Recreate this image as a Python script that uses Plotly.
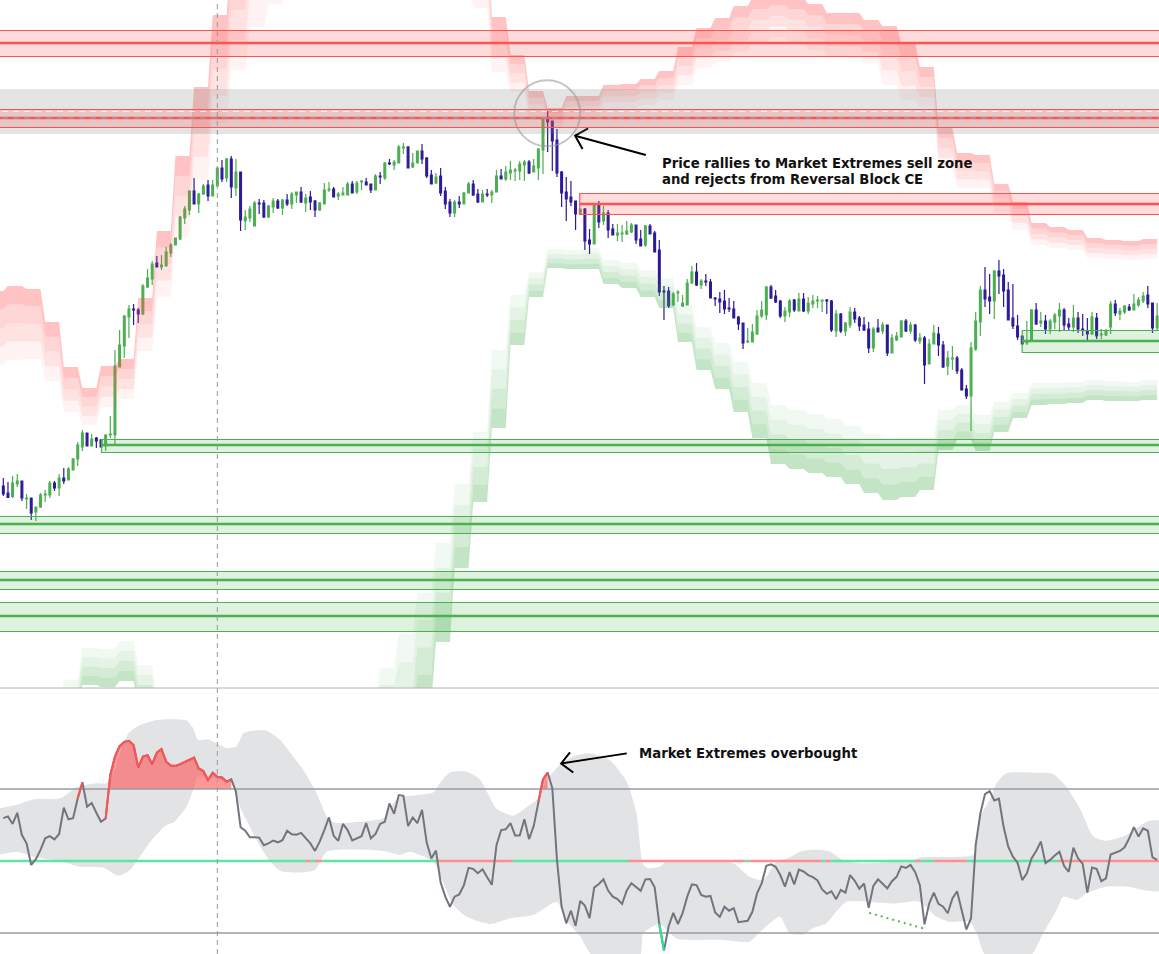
import numpy as np
import plotly.graph_objects as go

# ---------- candles ----------
opens = [514,507,503.5,516,519,501,502,488,493,505,
505,517,512,522,520,530,541,553,567,554,
562,560,554,565,565,633,654,683,691,690,
686,713,721,737,733,734,747,755,761,782,
790,809,796,806,815,804,814,832,822,841,
812,828,779,782,774,797,797,783,793,799,
792,800,796,805,808,797,803,799,790,796,
810,811,804,805,805,816,808,818,818,816,
810,824,822,837,835,837,852,853,833,837,
849,842,825,817,824,809,798,787,798,796,
807,816,806,798,806,805,808,824,821,827,
829,829,835,838,828,832,850,881,879,860,
828,808,803,799,786,791,760,756,795,779,
787,771,765,766,766,768,775,761,755,774,
767,750,709,709,695,707,694,695,717,728,
715,719,718,702,701,699,692,691,683,677,
658,658,666,684,685,713,704,699,684,688,
700,689,701,689,696,699,699,700,699,669,
686,669,675,688,682,675,671,652,672,669,
675,647,660,663,679,669,675,659,662,636,
656,666,655,634,641,642,630,611,604,651,
678,710,703,699,729,725,710,682,674,664,
657,659,690,677,679,671,678,684,690,676,
673,682,671,669,666,682,665,665,673,696,
686,688,693,690,695,699,705,697,672]
highs = [522,518,524,526,519,506,502,493,507,510,
519,519,526,532,533,542,558,570,567,566,
563,561,566,584,650,670,685,695,696,692,
716,731,739,744,745,753,757,762,784,794,
809,822,807,816,820,820,832,840,842,844,
841,828,790,794,799,801,800,795,802,801,
801,806,808,808,813,806,809,800,798,817,
818,813,808,813,818,819,819,820,822,816,
826,828,838,841,840,855,857,854,847,849,
856,843,830,827,832,813,801,800,804,808,
818,820,811,810,811,810,830,831,834,839,
832,839,840,840,841,852,881,889,879,871,
829,823,819,799,791,792,771,796,799,794,
790,776,776,775,779,777,775,770,775,776,
769,760,714,713,708,710,705,721,734,737,
721,726,721,703,708,710,702,699,684,677,
672,676,690,699,714,715,710,700,693,701,
701,707,707,703,705,704,700,701,700,690,
687,678,693,692,684,683,678,673,681,678,
675,666,668,680,681,678,676,667,664,661,
675,673,659,649,654,644,632,615,658,688,
714,733,726,730,740,731,718,716,685,664,
679,691,697,688,685,681,687,697,692,682,
695,688,686,682,688,687,671,671,699,700,
692,695,696,706,703,708,714,697,697]
lows = [504,502,502,513,499,491,480,479,492,498,
502,509,504,516,520,530,534,549,554,554,
552,553,549,562,556,633,642,662,675,677,
685,712,715,733,730,734,743,755,760,776,
785,796,787,805,799,804,814,818,818,802,
804,769,770,778,774,786,782,782,787,791,
785,794,791,797,797,788,790,783,789,796,
808,803,800,805,805,807,806,810,815,807,
810,816,820,835,830,837,846,832,832,837,
836,822,816,816,804,791,783,783,792,796,
807,804,797,798,803,797,808,821,819,820,
819,820,819,826,828,820,826,848,829,823,
793,779,794,770,785,750,746,756,772,775,
762,765,759,758,765,767,756,754,753,766,
748,704,680,692,694,698,693,695,716,714,
711,714,702,694,687,686,688,682,670,651,
657,658,665,682,680,701,697,682,678,683,
688,689,688,686,692,692,688,686,668,663,
667,664,672,677,669,669,647,648,668,666,
644,647,659,663,668,666,658,656,616,636,
656,644,632,625,630,626,610,601,569,649,
664,693,686,681,706,693,680,671,660,656,
655,658,675,673,666,666,671,668,669,669,
668,667,664,660,665,661,661,664,666,684,
680,686,689,690,693,697,692,667,670]
closes = [506,502.5,517,519,502,502,487,493,505,506,
517,512,522,519,531,541,555,567,554,561,
559,553,565,566,634,655,684,691,690,686,
714,722,736,733,735,748,755,762,783,791,
809,796,806,814,804,815,832,821,841,813,
828,780,783,791,797,796,783,794,799,792,
800,796,806,808,798,802,798,790,797,810,
811,803,806,807,816,807,817,819,815,810,
824,823,837,836,838,853,853,832,837,849,
841,824,816,823,807,796,787,798,796,807,
816,805,798,806,805,808,824,821,828,830,
830,836,838,827,834,851,881,878,859,827,
807,801,798,786,791,759,756,795,778,787,
770,765,767,767,769,775,760,754,774,766,
748,708,708,694,706,708,697,717,728,715,
719,718,702,701,698,691,691,682,676,657,
659,668,684,690,713,702,698,684,689,699,
690,701,689,697,699,700,700,699,670,686,
669,677,688,681,674,670,652,671,668,675,
647,662,664,679,669,675,660,662,635,656,
667,655,633,642,642,629,610,604,652,679,
710,701,699,729,724,709,680,674,663,656,
659,690,676,679,671,679,685,690,675,673,
682,671,670,666,683,664,666,669,696,687,
689,694,690,696,700,704,696,672,684]
assert len(opens) == len(highs) == len(lows) == len(closes) == 249

# ---------- Market Extremes bands (one value per 4-candle block, first block starts at candle -3) ----------
red_top = [709,714,711,678,633,612,634,641,702,769,844,913,985,1050,1097,1130,1160,1190,1210,1220,1220,1220,1210,1200,1180,1140,1100,
           983,945,909,892,904,904,915,916,921,929,953,972,982,994,1002,1005,1002,996,987,987,980,974,957,933,872,847,845,816,798,777,773,770,762,760,759,761]
red_bottom = [635,640,641,619,588,575,593,601,649,703,763,820,877,930,973,996,1040,1070,1090,1100,1100,1100,1090,1080,1060,1020,992,
              928,908,882,872,882,884,892,892,895,900,915,932,938,948,958,963,958,950,943,942,937,915,900,893,832,812,812,787,770,755,752,750,742,741,740,741]
green_top = [260,260,265,290,320,352,351,359,335,300,270,240,200,200,200,200,200,200,200,200,295,332,366,407,457,516,568,
             650,705,728,751,750,752,740,737,730,722,695,673,657,638,617,595,590,586,581,574,566,562,563,563,590,595,585,598,607,617,617,618,620,619,618,620]
green_bottom = [200,200,205,230,283,315,313,319,295,255,210,170,120,120,120,120,120,120,120,120,230,265,253,298,358,432,498,
                572,655,703,732,731,731,716,712,703,692,658,630,611,588,562,536,531,527,523,516,507,500,503,510,550,560,549,568,582,595,596,597,600,599,599,600]
assert len(red_top) == len(red_bottom) == len(green_top) == len(green_bottom) == 63
red_alpha = [0.35, 0.24, 0.16, 0.07]
green_alpha = [0.33, 0.24, 0.15, 0.07]

# ---------- zones ----------
red_zone_start = [-5, -5, 123.9]
red_zone_top = [969.5, 890.5, 806.5]
red_zone_mid = [957, 882, 796]
red_zone_bottom = [943.5, 872.5, 785.5]
green_zone_start = [21.1, -5, -5, -5, 219]
green_zone_top = [560.5, 483.5, 428.5, 397.5, 669.5]
green_zone_mid = [555, 476, 420, 384, 659]
green_zone_bottom = [547.5, 466.5, 410.5, 368.5, 647.5]
grey_zone = [866, 911]
white_dash_level = 888.5
grey_dash_level = 882
cursor_candle = 46
circle_x = [109.8, 124.0]
circle_y = [853.7, 919.7]

# ---------- oscillator ----------
osc = [61.9,62.4,60.3,63.4,57.2,54.9,48.9,50.5,53.1,56.3,
56.9,56.0,57.5,64.8,61.6,61.9,67.4,71.9,65.1,66.1,
63.4,60.9,61.8,73.9,79.0,81.9,83.1,83.4,82.2,76.0,
79.0,79.4,76.9,80.1,81.1,77.6,76.5,76.4,76.9,77.5,
78.1,78.7,75.7,75.0,72.5,74.5,73.4,73.2,72.0,72.7,
69.3,59.4,58.4,56.6,56.6,56.5,54.4,54.9,55.7,55.2,
55.8,58.4,57.4,57.3,57.8,56.3,54.9,52.8,55.4,58.6,
62.1,57.0,55.6,60.3,58.6,55.7,56.3,56.9,60.5,56.3,
57.5,60.3,60.9,66.0,63.1,68.3,68.1,59.7,62.1,60.5,
64.2,55.1,50.7,52.9,44.0,40.1,37.3,40.1,40.7,43.3,
48.1,47.8,46.6,47.7,45.5,43.4,54.4,58.6,58.8,60.5,
57.1,57.1,61.6,56.1,59.7,66.5,72.7,74.6,70.2,50.3,
37.3,32.7,36.2,32.0,38.9,37.6,34.1,42.6,43.6,44.9,
41.8,40.1,39.4,38.1,41.8,43.8,42.7,41.7,44.9,45.0,
42.7,32.5,25.1,31.8,35.6,32.5,35.5,40.1,43.5,43.3,
40.6,40.1,40.3,35.7,34.5,37.3,36.2,36.9,33.0,33.1,
33.4,35.9,41.0,43.8,48.7,49.1,48.4,46.1,42.9,46.9,
43.5,47.6,47.1,46.1,45.5,44.6,42.1,40.9,41.6,39.4,
42.0,41.2,46.1,44.5,42.3,43.8,37.0,43.1,44.9,43.7,
42.4,44.4,45.6,48.5,48.1,48.9,46.9,43.3,32.4,38.2,
41.2,38.1,37.3,35.5,39.6,41.6,35.9,31.0,34.1,54.4,
63.2,68.6,69.4,66.8,67.3,59.5,54.0,51.2,49.5,44.7,
46.6,50.7,52.8,55.4,49.4,50.3,51.5,52.6,48.6,47.0,
53.7,50.7,49.2,41.2,48.2,47.8,44.4,45.2,51.8,52.3,
52.8,53.8,56.3,59.4,56.8,59.1,58.4,51.0,50.3]
assert len(osc) == 249

band_up_x = [-1,2.9,6.4,12.2,15.8,20,22.2,24,26.9,29.4,33,36.5,39.4,40.8,41.9,44,45.8,48,50.1,51.6,53.7,56.6,59.5,62.3,64.5,67,69.8,71.6,76.6,81.7,82.7,85.2,
             88.8,92.4,93.8,96,99.6,102.4,106,109.6,112.1,115,116.8,119.6,122.5,126.1,130.4,134,136.1,137.5,138.5,141.1,142.5,146.8,156.9,160.4,163.3,166.2,
             169,171.2,174.8,177.7,180.5,184.1,195.6,197,205.6,208.5,209.9,212,213.5,215.6,222.8,225.7,228.5,231.4,234.3,237.1,241.4,244.3,245.7,249]
band_up = [64.6,65.6,67.1,67.4,70.5,71.6,71.6,75.7,85.5,87.8,89.2,89.4,89.0,86.9,83.6,83.8,82.7,81.4,81.8,85.5,86.2,86.2,83.6,79.0,75.3,69.7,61.9,60.6,60.9,61.9,64.2,67.7,
           68.3,69.0,71.6,74.6,74.8,72.7,64.6,62.6,64.6,67.4,72.5,76.7,79.0,79.9,78.0,72.0,63.2,49.0,48.0,48.4,50.0,50.3,49.4,45.6,44.7,49.8,
           51.0,52.6,53.2,52.6,50.3,49.4,50.3,51.0,51.2,51.7,62.3,66.9,71.6,74.4,74.5,74.2,70.6,64.6,56.8,55.6,57.2,59.7,60.9,61.1]
band_low_x = [-1,2.9,6.4,12.2,16.5,21.5,24.7,27.2,30.1,32.2,35.1,36.5,39.4,40.8,41.9,45.1,49.4,50.9,53.7,56.6,59.5,63.8,67,69.5,78.1,82.4,85.2,
              87.4,92.4,94.6,96.7,99.6,104.6,108.9,113.9,119,121,124,126.8,136.8,137.5,141.1,144.7,154,160.4,162.9,166.9,
              169,171.9,174,176.9,179,181.2,185.5,191.8,196.8,200.6,203.4,207.7,209.2,211.3,220.6,223.5,226.4,227.8,230.7,232.8,237.1,241.4,245.7,249]
band_low = [51.7,52.6,51.2,50.0,48.4,48.2,45.9,47.5,52.6,56.3,60.0,60.6,65.1,69.7,73.4,73.0,71.6,65.1,57.7,51.2,47.3,46.8,47.5,52.6,53.1,52.6,51.7,
            52.6,49.8,43.8,37.8,34.5,32.5,34.1,35.0,38.7,33.6,29.0,23.4,23.4,29.9,32.5,28.5,28.1,27.6,30.6,34.5,
            29.9,29.6,31.3,32.7,35.9,38.7,38.7,38.2,38.7,34.5,33.1,33.1,29.9,23.4,23.4,29.9,36.4,40.1,39.2,41.0,42.9,42.9,41.8,41.8]

overbought_level = 70
mid_level = 50
oversold_level = 30
red_line_segments = [(16, 17), (22, 49), (115, 117)]
green_line_segments = [(141, 142)]
overbought_fills = [(23, 49), (116, 117)]
mid_bull = [(-1, 65), (66, 67), (68.6, 93), (109.5, 134.3), (159.5, 160.4), (175.9, 176.7), (177.8, 196), (197, 200), (207, 226.7)]
mid_bear = [(65, 66), (67, 68.6), (93, 109.5), (134.3, 159.5), (160.4, 175.9), (176.7, 177.8), (196, 197), (200, 207), (226.7, 249)]
divergence_x = [186.1, 197.7]
divergence_y = [35.6, 31.3]

# ---------- arrows and notes ----------
arrow1_x = [138.1, 122.9, None, 125.7, 122.9, 124.5]
arrow1_y = [845, 864.3, None, 871.7, 864.3, 851]
arrow2_x = [134.0, 119.9, None, 121.8, 119.9, 122.5]
arrow2_y = [79.9, 77.1, None, 80.2, 77.1, 74.6]
note_lines = ["Price rallies to Market Extremes sell zone", "and rejects from Reversal Block CE"]
note_x = 141.6
note_y = [836.5, 820.5]
note2 = "Market Extremes overbought"
note2_x = 136.6
note2_y = 80

UP = "#4caf50"
DOWN = "#2c1a98"
RED = "#ff5252"
idx = list(range(249))

fig = go.Figure()
fig.add_trace(go.Candlestick(
    x=idx, open=opens, high=highs, low=lows, close=closes, whiskerwidth=0,
    increasing=dict(line=dict(color=UP, width=1.2), fillcolor=UP),
    decreasing=dict(line=dict(color=DOWN, width=1.2), fillcolor=DOWN),
    xaxis="x", yaxis="y", showlegend=False))

block_x = np.arange(-3, 249)


def add_layers(top, bottom, alphas, rgb):
    top = np.repeat(np.array(top, float), 4)
    bottom = np.repeat(np.array(bottom, float), 4)
    for k, a in enumerate(alphas):
        upper = top + (bottom - top) * k / 4
        lower = top + (bottom - top) * (k + 1) / 4
        fig.add_trace(go.Scatter(x=np.r_[block_x, block_x[::-1]], y=np.r_[upper, lower[::-1]],
                                 mode="lines", line=dict(width=0), fill="toself",
                                 fillcolor=f"rgba({rgb},{a})", xaxis="x", yaxis="y",
                                 showlegend=False, hoverinfo="skip"))


add_layers(red_top, red_bottom, red_alpha, "255,82,82")
add_layers(green_bottom, green_top, green_alpha, "76,175,80")

fig.add_trace(go.Scatter(x=arrow1_x, y=arrow1_y, mode="lines", line=dict(color="black", width=2),
                         xaxis="x", yaxis="y", showlegend=False, hoverinfo="skip"))

# oscillator pane
fig.add_trace(go.Scatter(x=band_up_x + band_low_x[::-1], y=band_up + band_low[::-1], mode="lines",
                         line=dict(width=0, shape="spline", smoothing=0.6), fill="toself", fillcolor="#e2e3e5",
                         xaxis="x2", yaxis="y2", showlegend=False, hoverinfo="skip"))


def split(ranges):
    xs, ys = [], []
    for a, b in ranges:
        xs += [a, b, None]
        ys += [mid_level, mid_level, None]
    return xs, ys


for ranges, col in ((mid_bull, "#5ee6a5"), (mid_bear, "#ff8f8f")):
    xs, ys = split(ranges)
    fig.add_trace(go.Scatter(x=xs, y=ys, mode="lines", line=dict(color=col, width=2.5),
                             xaxis="x2", yaxis="y2", showlegend=False, hoverinfo="skip"))

for a, b in overbought_fills:
    cross = a - 1 + (overbought_level - osc[a - 1]) / (osc[a] - osc[a - 1])
    fig.add_trace(go.Scatter(x=[cross] + idx[a:b + 1] + [b], y=[overbought_level] + osc[a:b + 1] + [overbought_level],
                             mode="lines", line=dict(width=0), fill="toself", fillcolor="rgba(255,82,82,0.6)",
                             xaxis="x2", yaxis="y2", showlegend=False, hoverinfo="skip"))

for lvl in (overbought_level, oversold_level):
    fig.add_trace(go.Scatter(x=[-1, 249], y=[lvl, lvl], mode="lines", line=dict(color="#9a9aa3", width=1.5),
                             xaxis="x2", yaxis="y2", showlegend=False, hoverinfo="skip"))

fig.add_trace(go.Scatter(x=idx, y=osc, mode="lines", line=dict(color="#74747f", width=2),
                         xaxis="x2", yaxis="y2", showlegend=False, hoverinfo="skip"))

for segs, col in ((red_line_segments, RED), (green_line_segments, "#1fe58c")):
    xs, ys = [], []
    for a, b in segs:
        xs += idx[a:b + 1] + [None]
        ys += osc[a:b + 1] + [None]
    fig.add_trace(go.Scatter(x=xs, y=ys, mode="lines", line=dict(color=col, width=2),
                             xaxis="x2", yaxis="y2", showlegend=False, hoverinfo="skip"))

fig.add_trace(go.Scatter(x=divergence_x, y=divergence_y, mode="lines", line=dict(color=UP, width=1.8, dash="2px,4px"),
                         xaxis="x2", yaxis="y2", showlegend=False, hoverinfo="skip"))
fig.add_trace(go.Scatter(x=arrow2_x, y=arrow2_y, mode="lines", line=dict(color="black", width=2),
                         xaxis="x2", yaxis="y2", showlegend=False, hoverinfo="skip"))

# zones and marks
shapes = [dict(type="rect", xref="x", yref="y", x0=-5, x1=260, y0=grey_zone[0], y1=grey_zone[1],
               fillcolor="rgba(128,128,128,0.21)", line=dict(width=0), layer="above")]


def add_zone(start, top, mid, bottom, col, fill):
    for s, t, m, b in zip(start, top, mid, bottom):
        shapes.append(dict(type="rect", xref="x", yref="y", x0=s, x1=260, y0=b, y1=t, fillcolor=fill,
                           line=dict(color=col, width=1.2), layer="above"))
        shapes.append(dict(type="line", xref="x", yref="y", x0=s, x1=260, y0=m, y1=m,
                           line=dict(color=col, width=2.6), layer="above"))


add_zone(red_zone_start, red_zone_top, red_zone_mid, red_zone_bottom, RED, "rgba(255,82,82,0.2)")
add_zone(green_zone_start, green_zone_top, green_zone_mid, green_zone_bottom, UP, "rgba(76,175,80,0.18)")
shapes.append(dict(type="line", xref="x", yref="y", x0=-5, x1=260, y0=white_dash_level, y1=white_dash_level,
                   line=dict(color="rgba(255,255,255,0.7)", width=1, dash="6px,5px"), layer="above"))
shapes.append(dict(type="line", xref="x", yref="y", x0=-5, x1=260, y0=grey_dash_level, y1=grey_dash_level,
                   line=dict(color="#9a9a9a", width=1.5, dash="6px,5px"), layer="above"))
shapes.append(dict(type="circle", xref="x", yref="y", x0=circle_x[0], x1=circle_x[1], y0=circle_y[0], y1=circle_y[1],
                   line=dict(color="rgba(150,150,150,0.55)", width=2), layer="above"))
shapes.append(dict(type="line", xref="x", yref="paper", x0=cursor_candle, x1=cursor_candle, y0=0, y1=1,
                   line=dict(color="#9a9a9a", width=1, dash="5px,4px"), layer="above"))
shapes.append(dict(type="line", xref="paper", yref="paper", x0=0, x1=1, y0=266 / 954, y1=266 / 954,
                   line=dict(color="#b2b2b2", width=1), layer="above"))

FONT = dict(family="DejaVu Sans", size=13.25, color="#111111", weight=700)
annotations = [dict(x=note_x, y=yy, xref="x", yref="y", text=t, showarrow=False, xanchor="left", yanchor="middle",
                    font=FONT, borderpad=0, borderwidth=0) for t, yy in zip(note_lines, note_y)]
annotations.append(dict(x=note2_x, y=note2_y, xref="x2", yref="y2", text=note2, showarrow=False, xanchor="left",
                        yanchor="middle", font=FONT, borderpad=0, borderwidth=0))

fig.update_layout(
    width=1159, height=954, margin=dict(l=0, r=0, t=0, b=0), paper_bgcolor="white", plot_bgcolor="white",
    showlegend=False, boxgap=0.45, hovermode=False, shapes=shapes, annotations=annotations,
    xaxis=dict(domain=[0, 1], range=[-0.71, 248.4], visible=False, rangeslider=dict(visible=False), fixedrange=True),
    yaxis=dict(domain=[266 / 954, 1], range=[312, 1000], visible=False, fixedrange=True),
    xaxis2=dict(domain=[0, 1], range=[-0.71, 248.4], visible=False, anchor="y2", fixedrange=True),
    yaxis2=dict(domain=[0, 266 / 954], range=[24.17, 98.06], visible=False, anchor="x2", fixedrange=True),
)

fig.write_html("out.html", config=dict(displayModeBar=False),
               post_script="document.body.style.margin='0';document.body.style.overflow='hidden';")
